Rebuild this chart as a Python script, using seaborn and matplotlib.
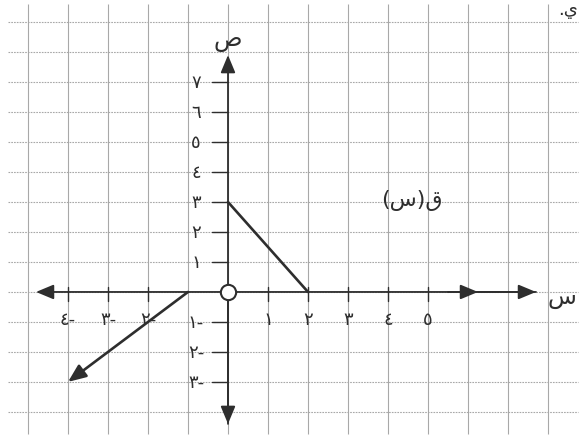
import matplotlib
matplotlib.use("Agg")
import matplotlib.pyplot as plt
import seaborn as sns

# data of the graph q(x)
seg_x = [0, 2]
seg_y = [3, 0]
ray_x = [-1, -4]
ray_y = [0, -3]
open_x = [0]
open_y = [0]
label_pos = (4.6, 3.1)

x_ticks = [-4, -3, -2, 1, 2, 3, 4, 5]
x_tick_labels = ['٤-', '٣-', '٢-', '١', '٢', '٣', '٤', '٥']
y_ticks = [-3, -2, -1, 1, 2, 3, 4, 5, 6, 7]
y_tick_labels = ['٣-', '٢-', '١-', '١', '٢', '٣', '٤', '٥', '٦', '٧']

sns.set_style("white")
plt.rcParams['font.family'] = ['DejaVu Sans']

fig = plt.figure(figsize=(5.84, 4.39), dpi=100)
ax = fig.add_axes([0, 0, 1, 1])
ax.set_xlim(-5.7, 8.9)
ax.set_ylim(-4.87, 9.77)
ax.axis('off')

ink = '#2e2e2e'
grid_c = '#a8a8a8'

# background grid paper
ax.vlines(range(-5, 9), -4.75, 9.6, color=grid_c, lw=0.8, zorder=0)
ax.hlines(range(-4, 10), -5.5, 8.75, color=grid_c, lw=0.8, linestyles=(0, (1.5, 1)), zorder=0)

head = dict(arrowstyle='-|>,head_length=0.6,head_width=0.25', mutation_scale=18,
            color=ink, lw=1.3, shrinkA=0, shrinkB=0)

# axes with arrows
ax.annotate('', xy=(-4.8, 0), xytext=(7.7, 0), arrowprops=head)
ax.annotate('', xy=(7.7, 0), xytext=(6.0, 0), arrowprops=head)
ax.annotate('', xy=(6.25, 0), xytext=(5.5, 0), arrowprops=head)
ax.annotate('', xy=(0, 7.9), xytext=(0, -4.4), arrowprops=head)
ax.annotate('', xy=(0, -4.4), xytext=(0, 0), arrowprops=head)

# ticks and labels
for xv, lab in zip(x_ticks, x_tick_labels):
    ax.plot([xv, xv], [-0.3, 0.15], color=ink, lw=1.0)
    ax.text(xv, -0.9, lab, ha='center', va='center', fontsize=13, color=ink)
for yv, lab in zip(y_ticks, y_tick_labels):
    ax.plot([-0.4, 0], [yv, yv], color=ink, lw=1.0)
    ax.text(-0.8, yv, lab, ha='center', va='center', fontsize=13, color=ink)

ax.text(8.35, -0.15, 'س', ha='center', va='center', fontsize=17, color=ink)
ax.text(0.0, 8.45, 'ص', ha='center', va='center', fontsize=17, color=ink)
ax.text(8.5, 9.72, '.ي', ha='center', va='top', fontsize=13, color=ink)

# the function pieces
sns.lineplot(x=seg_x, y=seg_y, ax=ax, color=ink, lw=1.9)
ax.annotate('', xy=(ray_x[1], ray_y[1]), xytext=(ray_x[0], ray_y[0]),
            arrowprops=dict(head, lw=1.9))
ax.plot(open_x, open_y, 'o', ms=11, mfc='white', mec=ink, mew=1.5, zorder=5)
ax.text(label_pos[0], label_pos[1], '(س)ق', ha='center', va='center', fontsize=16, color=ink)

fig.savefig('out.png', dpi=100)
